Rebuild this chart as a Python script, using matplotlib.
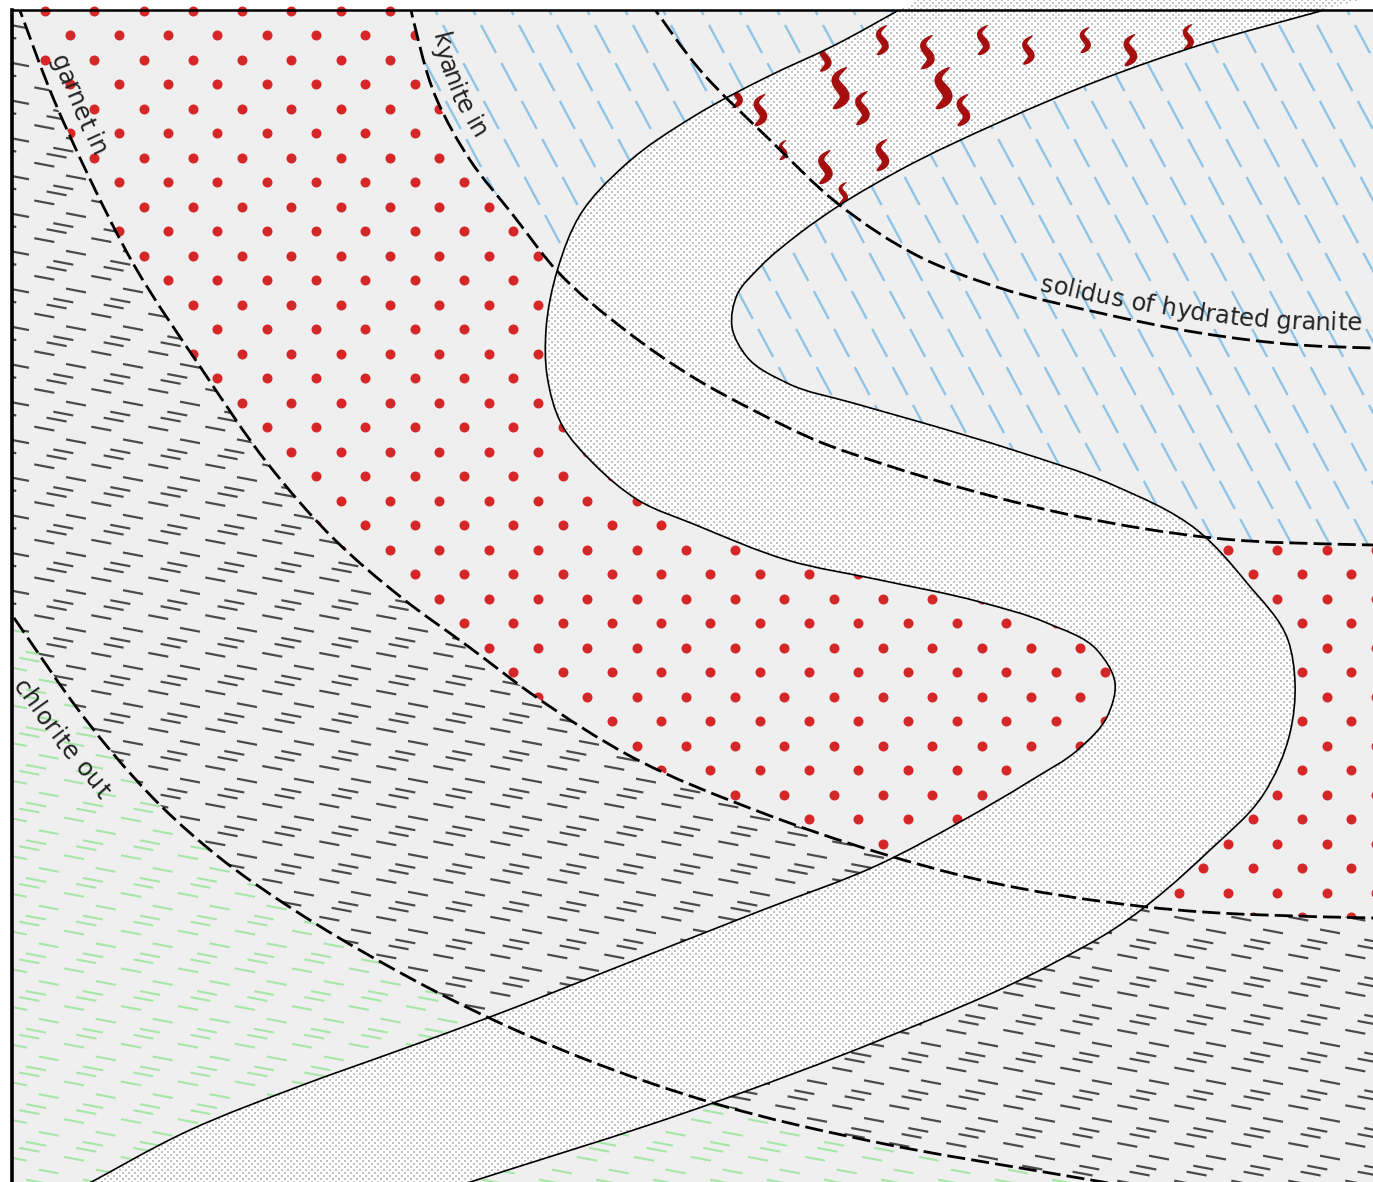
import numpy as np
import matplotlib
matplotlib.use("Agg")
import matplotlib.pyplot as plt
from matplotlib.path import Path
from matplotlib.patches import PathPatch
from matplotlib.collections import LineCollection
from matplotlib.textpath import TextToPath
from matplotlib.font_manager import FontProperties

W, H = 1373, 1182
FX, FY = 12, 10  # frame corner (left / top border)

# isograds in pixels (y points down)
chlorite_out = [(0, 598), (12, 615), (45, 663), (71, 700), (110, 750), (160, 805),
                (220, 858), (291, 908), (388, 966), (485, 1016), (582, 1058),
                (713, 1103), (880, 1143), (1050, 1173), (1150, 1190)]
garnet_in = [(16, 0), (54, 100), (89, 177), (134, 265), (201, 368), (268, 464),
             (335, 540), (402, 598), (469, 647), (536, 697), (630, 756),
             (760, 812), (880, 853), (980, 880), (1147, 907), (1373, 918),
             (1420, 919)]
kyanite_in = [(408, 0), (437, 100), (470, 160), (513, 215), (558, 272), (625, 330),
              (696, 379), (753, 410), (820, 442), (880, 463), (980, 493),
              (1080, 517), (1213, 538), (1373, 545), (1420, 546)]
solidus = [(648, 0), (700, 70), (770, 140), (837, 203), (920, 257), (1000, 288),
           (1100, 313), (1200, 333), (1300, 345), (1373, 348), (1420, 349)]

# the S-shaped band (two solid boundaries)
band_outer = [(73, 1192), (190, 1130), (300, 1086), (400, 1050), (490, 1017),
              (620, 966), (760, 911), (880, 864), (960, 822), (1030, 781),
              (1080, 748), (1107, 717), (1115, 683), (1097, 650), (1047, 623),
              (980, 602), (880, 580), (787, 560), (696, 525), (638, 500),
              (594, 464), (562, 425), (547, 375), (546, 330), (558, 268),
              (580, 215), (625, 165), (696, 115), (767, 77), (833, 46), (917, 0)]
band_inner = [(439, 1192), (713, 1103), (880, 1040), (1050, 965), (1117, 927),
              (1210, 850), (1263, 795), (1290, 733), (1295, 683), (1288, 640),
              (1247, 583), (1197, 530), (1113, 485), (1013, 450), (920, 422),
              (853, 403), (787, 383), (747, 357), (732, 327), (737, 295),
              (760, 267), (800, 233), (840, 205), (900, 170), (1000, 122),
              (1100, 80), (1200, 45), (1317, 12), (1360, 0)]

# melt symbols (centre x, centre y, height)
flame_x = [737, 760, 783, 825, 825, 840, 843, 862, 882, 882, 927, 943, 963, 983,
           1028, 1085, 1130, 1188]
flame_y = [95, 110, 150, 57, 167, 88, 193, 108, 40, 155, 52, 88, 110, 40,
           50, 40, 50, 37]
flame_h = [26, 32, 20, 29, 34, 42, 22, 34, 30, 32, 34, 42, 32, 30,
           29, 26, 32, 26]

labels = ["garnet in", "kyanite in", "solidus of hydrated granite", "chlorite out"]


def smooth_path(pts):
    # cubic hermite through the points (chord-length tangents) as bezier segments
    p = np.asarray(pts, float)
    d = np.diff(p, axis=0)
    h = np.hypot(d[:, 0], d[:, 1])
    u = d / h[:, None]
    t = np.empty_like(p)
    t[0], t[-1] = u[0], u[-1]
    t[1:-1] = (h[1:, None] * u[:-1] + h[:-1, None] * u[1:]) / (h[:-1] + h[1:])[:, None]
    verts = [p[0]]
    codes = [Path.MOVETO]
    for k in range(len(p) - 1):
        verts += [p[k] + t[k] * h[k] / 3, p[k + 1] - t[k + 1] * h[k] / 3, p[k + 1]]
        codes += [Path.CURVE4] * 3
    return Path(np.array(verts), codes)


def rev(path):
    n = len(path.vertices)
    return Path(path.vertices[::-1], [Path.MOVETO] + [Path.CURVE4] * (n - 1))


def region(*parts):
    verts, codes = [], []
    for part in parts:
        if isinstance(part, Path):
            v, c = part.vertices, list(part.codes)
        else:
            v = np.asarray(part, float)
            c = [Path.LINETO] * len(v)
        c = [Path.LINETO if cc == Path.MOVETO else cc for cc in c]
        verts.append(v)
        codes += c
    codes[0] = Path.MOVETO
    verts.append(verts[0][:1])
    codes.append(Path.CLOSEPOLY)
    return Path(np.vstack(verts), codes)


A = smooth_path(chlorite_out)
B = smooth_path(garnet_in)
C = smooth_path(kyanite_in)
D = smooth_path(solidus)
L = smooth_path(band_outer)
R = smooth_path(band_inner)

green_reg = region(A, [(0, 1250)])
gray_reg = region(B, [(1420, 1250), (1150, 1250)], rev(A), [(0, 0)])
red_reg = region(C, [(1420, 919)], rev(B))
blue_reg = region(C, [(1420, -20), (408, -20)])
band_reg = region(L, [(917, -20), (1360, -20)], rev(R), [(439, 1250), (73, 1250)])

fig = plt.figure(figsize=(W / 100, H / 100), dpi=100)
ax = fig.add_axes([FX / W, 0, 1 - FX / W, 1 - FY / H])
ax.set_xlim(FX, W)
ax.set_ylim(H, FY)
ax.set_facecolor("#efefef")
ax.set_xticks([])
ax.set_yticks([])
for s in ["right", "bottom"]:
    ax.spines[s].set_visible(False)
ax.spines["left"].set_linewidth(2.6)
ax.spines["top"].set_linewidth(1.8)


def clip_to(artist, path):
    artist.set_clip_box(ax.bbox)
    artist.set_clip_path(PathPatch(path, transform=ax.transData, fc="none", ec="none"))


def tile_dashes(x0, y0):
    # single, single, double dash in a 57 x 37.7 px tile
    offs = [(0, 0), (31.7, 12.7), (19, 22.7), (12.3, 28.7)]
    half = np.array([10.0, 1.9])
    i = np.arange(-2, W // 57 + 3)
    j = np.arange(-2, int(H / 37.7) + 3)
    I, J = np.meshgrid(i, j)
    segs = []
    for ox, oy in offs:
        cx = (x0 + 57 * I + ox).ravel()
        cy = (y0 + 37.7 * J + oy).ravel()
        c = np.column_stack([cx, cy])
        segs += list(np.stack([c - half, c + half], axis=1))
    return segs


# chlorite zone (green) and garnet-free zone (gray)
lc = LineCollection(tile_dashes(17, 27.8), colors="#a6e6a6", linewidths=1.5, zorder=1)
ax.add_collection(lc)
clip_to(lc, green_reg)
lc = LineCollection(tile_dashes(44.3, 13.9), colors="#4a4a4a", linewidths=1.6, zorder=1)
ax.add_collection(lc)
clip_to(lc, gray_reg)

# garnet zone: staggered red dots
j = np.arange(-30, 25)
i = np.arange(-12, 22)
I, J = np.meshgrid(i, j)
dx = (464 + 49.3 * I + 24.65 * (J % 2)).ravel()
dy = (623 + 24.5 * J).ravel()
sc = ax.scatter(dx, dy, s=52, color="#d62728", linewidths=0, zorder=1)
clip_to(sc, red_reg)

# kyanite zone: slanted blue dashes
j = np.arange(-1, 33)
i = np.arange(-25, 40)
I, J = np.meshgrid(i, j)
bx = (25 + 38 * I + 20.4 * J).ravel()
by = (25 + 38 * J).ravel()
segs = np.stack([np.column_stack([bx, by]), np.column_stack([bx + 15, by + 28])], axis=1)
lc = LineCollection(segs, colors="#8fc4e6", linewidths=1.7, zorder=1)
ax.add_collection(lc)
clip_to(lc, blue_reg)

# the band: white with light stipple
ax.add_patch(PathPatch(band_reg, fc="white", ec="none", zorder=2))
gx, gy = np.meshgrid(np.arange(0, 1400, 6.0), np.arange(0, 1200, 3.0))
gx = gx + 3 * ((gy / 3) % 2)
pts = np.column_stack([gx.ravel(), gy.ravel()])
pts = pts[band_reg.contains_points(pts)]
sc = ax.scatter(pts[:, 0], pts[:, 1], s=0.8, marker="s", color="#c2c2c2",
                linewidths=0, zorder=2.5)
clip_to(sc, band_reg)


def flame(cx, cy, h):
    t = np.linspace(-1, 1, 41)
    mx = 0.35 * t - 0.38 * np.sin(np.pi * t)
    dmx = 0.35 - 0.38 * np.pi * np.cos(np.pi * t)
    nrm = np.hypot(dmx, 1)
    nx, ny = 1 / nrm, -dmx / nrm
    w = 0.23 * (1 - t ** 2) ** 0.55 * (1 - 0.3 * t)
    lx, ly = mx + w * nx, t + w * ny
    rx, ry = mx - w * nx, t - w * ny
    X = np.concatenate([lx, rx[::-1]])
    Y = np.concatenate([ly, ry[::-1]])
    return np.column_stack([cx + X * h / 2, cy - Y * h / 2])


for fx, fy, fh in zip(flame_x, flame_y, flame_h):
    p = plt.Polygon(flame(fx, fy, fh), closed=True, fc="#a50f0f", ec="none", zorder=3)
    ax.add_patch(p)
    clip_to(p, band_reg)

# isograds and band edges
for path in [A, B, C, D]:
    ax.add_patch(PathPatch(path, fc="none", ec="black", lw=2.0,
                           linestyle=(0, (6.5, 2.2)), zorder=5))
for path in [L, R]:
    ax.add_patch(PathPatch(path, fc="none", ec="black", lw=1.2, zorder=5))

# labels written along the curves
t2p = TextToPath()
prop = FontProperties(family="DejaVu Sans", size=17.5)
PX = 100 / 72


def advance(s):
    if not s:
        return 0.0
    w1 = t2p.get_text_width_height_descent(s + "l", prop, ismath=False)[0]
    w2 = t2p.get_text_width_height_descent("l", prop, ismath=False)[0]
    return (w1 - w2) * PX


def label_along(path, text, start, off, off_end=None):
    if off_end is None:
        off_end = off
    poly = path.to_polygons(closed_only=False)[0]
    seg = np.diff(poly, axis=0)
    cum = np.concatenate([[0], np.cumsum(np.hypot(seg[:, 0], seg[:, 1]))])
    s0 = cum[np.argmin(np.hypot(poly[:, 0] - start[0], poly[:, 1] - start[1]))]
    total = advance(text)
    for k, ch in enumerate(text):
        a0, a1 = advance(text[:k]), advance(text[:k + 1])
        f = (a0 + a1) / 2
        s = s0 + f
        o = off + (off_end - off) * f / total
        x = np.interp(s, cum, poly[:, 0])
        y = np.interp(s, cum, poly[:, 1])
        tx = np.interp(s + 6, cum, poly[:, 0]) - np.interp(s - 6, cum, poly[:, 0])
        ty = np.interp(s + 6, cum, poly[:, 1]) - np.interp(s - 6, cum, poly[:, 1])
        ang = np.arctan2(-ty, tx)
        ax.text(x - o * np.sin(ang), y - o * np.cos(ang), ch,
                rotation=np.degrees(ang), rotation_mode="anchor",
                ha="center", va="baseline", fontproperties=prop,
                color="#222222", zorder=6)


label_along(B, labels[0], (34, 46), 12)
label_along(C, labels[1], (419, 38), 14)
label_along(D, labels[2], (1040, 297), 8, 17)
label_along(A, labels[3], (50, 668), -40)

fig.savefig("out.png", dpi=100)
